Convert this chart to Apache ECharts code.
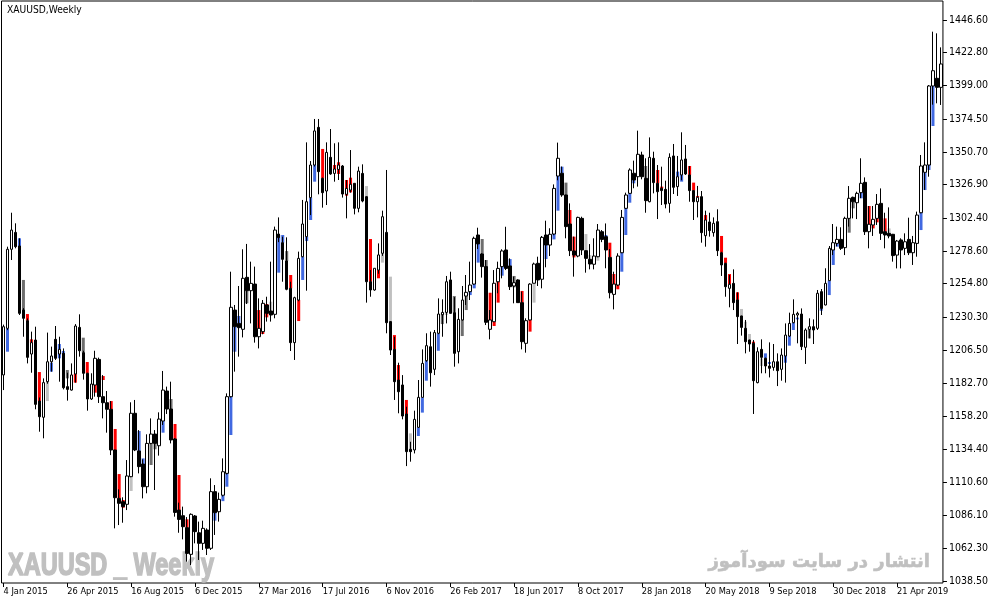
<!DOCTYPE html>
<html><head><meta charset="utf-8">
<script src="https://cdn.jsdelivr.net/npm/echarts/dist/echarts.min.js"></script>
<style>html,body{margin:0;padding:0;background:#fff}#c{width:991px;height:605px}</style>
</head><body><div id="c"></div>
<script>
// Weekly XAUUSD bars, starting week of 4 Jan 2015
const firstWeek = [2015, 0, 4];
const open = [
1188.4,1222.3,1279.8,1292.1,1282.2,1235.6,1227.9,1203.6,1213.8,1169.4,
1157.6,1183.5,1198.0,1214.3,1203.6,1204.1,1179.9,1177.4,1189.1,1223.0,
1204.6,1189.6,1170.9,1181.1,1199.7,1172.6,1168.2,1163.4,1133.8,1098.6,
1096.2,1094.3,1114.4,1160.5,1133.1,1123.6,1107.1,1138.6,1145.4,1136.9,
1154.9,1176.7,1163.6,1141.8,1090.1,1086.0,1077.3,1057.9,1085.8,1073.6,
1065.9,1075.6,1062.3,1103.5,1088.9,1100.9,1116.8,1172.6,1235.6,1225.9,
1221.6,1259.4,1249.7,1254.5,1216.2,1219.9,1239.3,1234.9,1232.5,1290.9,
1284.6,1271.3,1251.4,1211.9,1242.9,1274.4,1289.0,1317.4,1341.1,1368.5,
1331.4,1322.2,1346.7,1335.0,1337.9,1340.4,1319.8,1322.9,1327.8,1309.6,
1335.0,1318.1,1256.2,1250.2,1264.7,1276.9,1292.1,1227.2,1207.0,1184.7,
1181.1,1160.0,1134.3,1133.8,1150.3,1172.1,1198.8,1208.9,1192.5,1218.7,
1232.2,1233.9,1257.5,1233.7,1205.3,1228.4,1245.8,1249.0,1254.5,1290.2,
1276.4,1267.2,1221.6,1227.1,1256.2,1267.2,1279.3,1267.7,1253.1,1257.5,
1241.0,1211.4,1228.4,1255.1,1269.6,1258.0,1290.2,1282.9,1290.9,1333.1,
1335.1,1319.3,1298.2,1278.6,1274.9,1302.3,1278.8,1272.5,1268.9,1274.4,
1292.6,1289.0,1273.9,1247.0,1253.8,1277.3,1309.6,1320.5,1335.1,1332.6,
1348.4,1331.4,1314.4,1346.0,1327.8,1324.2,1323.4,1313.2,1347.7,1325.4,
1333.9,1345.5,1333.9,1322.5,1314.4,1318.1,1289.7,1299.7,1291.9,1299.9,
1277.3,1269.6,1251.4,1255.0,1243.0,1231.3,1222.3,1213.8,1211.4,1182.8,
1207.0,1200.5,1194.9,1193.9,1198.0,1192.5,1202.2,1216.7,1226.4,1232.0,
1232.7,1208.5,1221.6,1223.5,1222.3,1249.0,1239.3,1257.0,1279.3,1284.1,
1287.0,1281.0,1302.3,1317.6,1313.7,1321.0,1328.5,1292.6,1297.5,1302.3,
1313.2,1292.6,1291.4,1290.7,1275.6,1286.6,1280.5,1287.0,1277.3,1284.1,
1306.4,1335.8,1341.1,1398.6,1404.2,1397.6];
const high = [
1225.0,1281.7,1306.4,1298.7,1287.8,1237.0,1229.5,1219.9,1223.5,1172.0,
1185.9,1219.2,1209.0,1224.0,1216.2,1207.7,1190.0,1196.8,1225.4,1232.5,
1206.0,1190.0,1189.6,1206.0,1201.0,1188.3,1176.7,1169.4,1134.0,1105.2,
1099.4,1126.5,1168.5,1170.2,1148.3,1127.0,1145.2,1156.8,1148.3,1161.2,
1191.3,1179.9,1183.5,1142.5,1095.5,1092.6,1085.0,1087.7,1086.5,1081.7,
1082.4,1076.8,1113.2,1108.3,1102.8,1127.7,1175.0,1263.5,1239.3,1253.1,
1279.8,1283.7,1270.8,1267.2,1244.1,1242.9,1245.3,1270.8,1296.3,1303.0,
1289.0,1288.5,1256.2,1245.3,1278.1,1315.7,1357.6,1344.0,1374.6,1374.6,
1332.0,1357.6,1367.3,1356.9,1357.6,1341.1,1330.2,1352.0,1328.0,1339.9,
1341.6,1318.5,1264.7,1266.0,1284.1,1307.9,1337.5,1227.5,1216.2,1197.3,
1188.3,1165.3,1139.8,1162.4,1184.7,1207.0,1218.7,1219.9,1221.1,1244.1,
1243.4,1260.4,1263.5,1245.0,1236.9,1253.1,1261.1,1270.8,1289.0,1295.5,
1277.0,1272.0,1235.6,1264.7,1270.8,1279.8,1296.2,1273.2,1259.9,1258.0,
1249.0,1229.6,1255.1,1270.1,1274.4,1289.5,1300.6,1295.1,1327.0,1357.4,
1340.0,1319.5,1313.2,1289.0,1303.5,1303.5,1279.0,1283.6,1287.8,1298.2,
1293.8,1298.6,1280.0,1263.5,1276.9,1308.4,1321.0,1338.7,1344.3,1366.1,
1350.8,1346.0,1361.2,1350.8,1341.1,1339.9,1329.7,1349.6,1356.4,1347.7,
1364.9,1355.7,1340.4,1322.6,1325.9,1322.2,1307.9,1306.4,1303.0,1308.9,
1278.0,1270.0,1261.1,1265.2,1248.5,1231.5,1228.4,1214.0,1213.8,1208.5,
1214.3,1201.0,1212.1,1210.9,1204.1,1207.7,1225.9,1233.7,1243.4,1234.4,
1236.8,1222.3,1229.6,1228.8,1250.2,1250.9,1266.0,1282.2,1298.2,1296.3,
1295.8,1303.5,1325.8,1318.1,1321.7,1346.0,1332.1,1311.3,1311.3,1320.0,
1324.1,1306.4,1310.3,1291.0,1286.6,1287.8,1291.4,1302.8,1289.5,1307.2,
1348.4,1357.6,1399.3,1438.1,1436.9,1426.7];
const low = [
1177.4,1221.0,1272.0,1280.5,1232.0,1216.2,1196.8,1190.0,1163.4,1147.1,
1142.3,1182.0,1190.8,1199.3,1183.5,1177.9,1169.7,1177.0,1182.8,1201.7,
1185.0,1162.4,1170.2,1172.6,1168.0,1156.8,1146.4,1130.1,1076.8,1079.2,
1080.9,1090.1,1114.0,1133.0,1116.8,1098.6,1102.3,1138.0,1104.7,1129.7,
1152.0,1160.0,1138.6,1085.3,1073.6,1068.8,1052.6,1050.1,1065.9,1053.8,
1061.1,1057.4,1061.1,1072.0,1081.7,1100.0,1116.0,1172.0,1190.8,1201.7,
1215.7,1240.0,1225.9,1211.9,1207.7,1218.0,1227.2,1227.2,1229.6,1285.0,
1256.2,1250.0,1205.8,1199.3,1242.0,1274.0,1249.7,1304.7,1340.0,1319.8,
1310.1,1312.0,1334.0,1329.0,1330.2,1317.4,1302.3,1321.0,1305.2,1306.7,
1314.0,1241.0,1245.3,1249.7,1262.0,1275.0,1218.7,1202.9,1170.2,1160.5,
1156.1,1122.1,1125.3,1131.3,1150.0,1172.0,1198.0,1179.9,1188.3,1218.0,
1216.2,1225.9,1233.0,1194.4,1196.8,1228.0,1239.3,1242.9,1254.0,1280.0,
1259.2,1224.7,1214.3,1227.0,1247.8,1258.7,1264.7,1250.2,1240.5,1241.0,
1207.0,1204.6,1228.0,1255.0,1253.1,1251.4,1266.7,1274.9,1290.0,1330.0,
1318.0,1287.8,1274.9,1259.9,1274.0,1275.6,1262.8,1265.2,1265.2,1274.0,
1285.0,1266.0,1244.1,1236.1,1253.0,1277.0,1309.0,1320.0,1324.2,1325.4,
1330.7,1306.4,1314.0,1320.5,1301.8,1312.0,1309.6,1306.4,1320.0,1318.6,
1330.0,1333.9,1314.4,1301.1,1303.0,1284.6,1281.7,1289.0,1289.0,1274.9,
1260.4,1245.3,1237.6,1235.6,1210.9,1217.0,1204.1,1205.3,1160.0,1182.3,
1189.6,1189.6,1186.6,1191.5,1180.3,1184.2,1182.8,1216.0,1226.0,1211.4,
1206.5,1196.4,1215.0,1210.9,1221.1,1232.0,1239.0,1257.0,1275.6,1282.0,
1279.3,1275.6,1296.3,1302.3,1301.8,1317.0,1290.2,1280.5,1289.5,1297.5,
1286.6,1280.5,1287.8,1270.8,1265.9,1265.9,1275.6,1275.6,1268.4,1274.4,
1306.0,1323.0,1332.6,1385.0,1386.0,1384.8];
const close = [
1223.5,1279.8,1293.8,1281.7,1233.2,1229.6,1201.2,1211.9,1167.0,1158.0,
1182.8,1198.0,1202.2,1200.5,1207.0,1179.1,1177.9,1188.4,1224.0,1206.0,
1189.6,1170.9,1181.8,1200.5,1172.6,1168.2,1163.4,1133.8,1099.1,1095.0,
1092.6,1114.9,1160.5,1133.8,1121.7,1107.1,1138.6,1145.4,1138.6,1156.3,
1177.4,1163.6,1141.1,1088.4,1083.3,1078.0,1058.6,1087.0,1074.4,1065.9,
1076.8,1062.3,1103.5,1088.2,1097.9,1118.0,1172.6,1237.6,1223.5,1222.8,
1258.7,1249.7,1255.0,1216.2,1222.3,1240.5,1233.2,1232.0,1293.8,1288.3,
1272.5,1250.7,1211.9,1244.6,1273.2,1298.2,1314.4,1341.1,1365.9,1336.3,
1321.0,1350.3,1334.6,1338.2,1341.1,1320.0,1324.1,1327.1,1309.6,1336.7,
1314.9,1256.2,1250.2,1266.0,1275.7,1303.5,1226.4,1206.5,1183.5,1176.2,
1158.5,1132.6,1132.6,1156.1,1172.1,1196.8,1209.7,1190.0,1219.2,1232.7,
1233.9,1256.2,1233.2,1204.1,1228.8,1242.9,1248.5,1253.8,1287.8,1283.7,
1267.2,1226.7,1228.4,1255.1,1265.9,1278.6,1265.9,1252.6,1255.5,1241.0,
1212.6,1227.9,1254.5,1269.1,1257.5,1288.5,1282.9,1290.7,1324.1,1346.0,
1319.3,1296.3,1278.8,1275.6,1303.0,1279.3,1273.2,1269.1,1274.9,1293.8,
1287.0,1279.3,1248.2,1254.5,1274.9,1303.0,1319.3,1337.5,1330.2,1348.9,
1332.6,1315.2,1346.7,1328.3,1321.7,1322.5,1312.7,1346.7,1324.9,1332.6,
1344.8,1334.6,1322.5,1314.4,1317.6,1291.9,1301.1,1293.4,1298.7,1278.8,
1268.4,1252.6,1254.3,1241.0,1230.8,1223.0,1212.6,1210.9,1184.2,1205.3,
1201.2,1194.9,1193.2,1198.0,1191.5,1202.9,1217.4,1225.9,1232.5,1233.2,
1209.0,1221.1,1223.5,1221.1,1247.8,1236.8,1255.0,1280.5,1284.6,1287.0,
1280.5,1302.3,1316.9,1314.4,1320.5,1327.8,1292.6,1298.0,1301.6,1312.5,
1291.4,1290.2,1289.5,1275.2,1285.8,1279.3,1285.3,1277.3,1284.6,1304.7,
1340.4,1341.1,1398.6,1409.7,1397.6,1414.6];

// Coloured indicator blocks drawn behind the candles
const blockBar = [1,4,5,6,7,9,11,12,14,15,16,18,20,21,23,25,27,28,29,30,32,34,35,37,38,40,42,43,44,46,
53,55,56,57,58,59,61,64,65,66,67,69,70,71,72,74,75,76,77,78,80,83,84,86,87,91,92,94,95,97,
98,99,101,102,104,105,106,109,110,111,113,115,116,117,118,119,120,121,122,123,124,125,127,128,130,132,133,136,138,139,
140,141,142,143,146,147,149,151,152,153,154,155,156,157,158,161,164,165,169,170,172,173,174,176,180,181,182,184,185,186,
187,188,190,191,192,196,197,198,199,202,205,207,208,209,212,213,215,217,218,219,221,222,230,231,232,233,234];
const blockLow = [1205.3,1281.7,1235.6,1227.9,1211.9,1169.4,1169.4,1190.8,1200.5,1203.6,1185.9,1182.8,1204.6,1189.6,1175.5,1184.7,1163.4,1133.8,1098.6,1091.8,1104.0,1133.1,1123.6,1122.9,1134.3,1146.4,1163.6,1141.8,1090.1,1077.3,
1082.4,1096.6,1107.1,1144.7,1205.3,1225.9,1240.5,1222.3,1218.2,1230.3,1234.9,1262.8,1284.6,1271.3,1251.4,1227.6,1257.5,1285.8,1301.1,1329.0,1331.4,1338.2,1334.6,1318.8,1321.2,1318.1,1256.2,1258.7,1270.1,1227.2,
1207.0,1184.7,1160.0,1132.6,1144.0,1161.0,1184.2,1206.0,1225.4,1232.0,1233.7,1216.7,1235.6,1246.5,1251.4,1270.1,1276.4,1267.2,1228.4,1224.0,1241.0,1260.6,1267.7,1252.1,1241.0,1219.9,1241.0,1272.7,1287.0,1307.9,
1335.1,1319.3,1298.2,1273.9,1278.8,1272.5,1271.5,1289.0,1273.9,1254.5,1250.7,1263.5,1290.2,1313.7,1327.8,1331.4,1327.8,1324.2,1332.6,1329.0,1333.9,1322.5,1317.6,1301.1,1277.3,1269.6,1254.3,1243.0,1231.3,1222.3,
1213.8,1211.4,1194.9,1200.5,1196.4,1197.3,1209.7,1221.1,1228.8,1215.0,1235.1,1246.5,1268.4,1281.7,1291.9,1309.6,1316.9,1298.0,1295.0,1299.4,1292.6,1291.4,1293.8,1322.9,1337.5,1369.5,1402.9];
const blockHigh = [1222.3,1287.8,1257.5,1232.7,1214.3,1190.5,1183.5,1197.3,1210.9,1205.8,1192.0,1189.1,1215.5,1197.8,1181.1,1187.6,1169.4,1149.1,1116.3,1097.4,1114.4,1147.6,1127.7,1138.6,1138.6,1154.9,1170.9,1152.7,1115.6,1083.4,
1088.2,1100.9,1116.8,1172.6,1223.5,1231.3,1249.7,1235.6,1219.9,1240.0,1241.7,1290.2,1290.2,1278.5,1261.1,1242.9,1274.4,1289.0,1317.4,1341.1,1352.8,1341.1,1343.1,1330.2,1331.9,1325.8,1287.3,1264.7,1276.9,1259.9,
1217.4,1195.6,1170.2,1145.9,1150.3,1172.1,1198.8,1218.7,1233.2,1234.9,1245.8,1228.4,1245.8,1249.0,1254.5,1283.7,1287.3,1272.0,1248.2,1227.1,1256.2,1267.2,1272.7,1260.4,1249.5,1228.4,1255.1,1282.9,1291.4,1333.1,
1339.9,1328.3,1308.4,1289.0,1290.9,1275.6,1274.4,1290.2,1284.6,1261.8,1253.8,1277.3,1309.6,1320.5,1330.2,1340.4,1337.5,1325.4,1336.3,1333.9,1340.4,1328.3,1318.6,1304.7,1289.5,1273.7,1261.8,1248.5,1236.4,1227.1,
1218.2,1212.6,1200.5,1204.1,1197.8,1202.2,1216.7,1226.4,1230.1,1223.0,1236.8,1257.0,1279.3,1284.1,1302.3,1314.4,1321.0,1311.3,1297.5,1302.3,1302.3,1295.0,1306.4,1335.8,1341.1,1398.6,1404.2];
const blockColor = ['b','b','d','r','r','r','l','b','b','b','d','r','d','r','r','r','r','r','r','r','l','b','b','d','d','b','d','r','r','r',
'b','b','b','b','b','b','d','r','r','r','l','b','b','d','r','r','b','b','b','b','r','r','r','r','r','l','r','r','l','l',
'r','r','r','l','b','b','b','b','d','l','d','d','d','b','b','b','d','d','r','r','r','b','b','d','r','r','l','b','b','b',
'b','d','r','r','l','l','l','b','r','r','r','b','b','b','b','d','r','r','b','b','r','r','r','r','r','r','r','r','l','l',
'l','r','l','b','b','b','b','b','b','d','b','b','b','b','d','d','b','r','r','r','r','l','b','b','b','b','b'];

const yTickLabels = ['1038.50','1062.30','1086.10','1110.60','1134.40','1158.20','1182.70','1206.50','1230.30',
'1254.80','1278.60','1302.40','1326.90','1350.70','1374.50','1399.00','1422.80','1446.60'];
const monthNames = ['Jan','Feb','Mar','Apr','May','Jun','Jul','Aug','Sep','Oct','Nov','Dec'];

const categories = [];
const t0 = Date.UTC(firstWeek[0], firstWeek[1], firstWeek[2]);
for (let i = 0; i < open.length; i++) {
  const d = new Date(t0 + i * 7 * 86400000);
  categories.push(d.getUTCDate() + ' ' + monthNames[d.getUTCMonth()] + ' ' + d.getUTCFullYear());
}
const colorMap = { b: '#4169E1', r: '#FF0000', l: '#C0C0C0', d: '#6E6E6E' };
const candleData = open.map((o, i) => [o, close[i], low[i], high[i]]);
const blockData = blockBar.map((b, k) => [b, blockLow[k], blockHigh[k]]);
const yTickValues = yTickLabels.map(Number);
const FONT = '"DejaVu Sans Condensed", "DejaVu Sans", sans-serif';

const chart = echarts.init(document.getElementById('c'), null, { renderer: 'canvas' });
chart.setOption({
  animation: false,
  backgroundColor: '#ffffff',
  title: {
    text: 'XAUUSD,Weekly', left: 7, top: 5, padding: 0,
    textStyle: { fontSize: 10.2, fontWeight: 'normal', color: '#000', fontFamily: FONT }
  },
  graphic: [
    { type: 'text', x: 8, y: 550, scaleX: 0.735, scaleY: 1, z: 0, silent: true,
      style: { x: 0, y: 0, text: 'XAUUSD _ Weekly', fill: '#C0C0C0', stroke: '#C0C0C0', lineWidth: 1.6,
        align: 'left', verticalAlign: 'top',
        font: 'bold 32px "Liberation Sans", sans-serif' } },
    { type: 'text', x: 930, y: 553, z: 0, silent: true,
      style: { x: 0, y: 0, text: 'انتشار در سایت سودآموز', fill: '#C0C0C0', stroke: '#C0C0C0', lineWidth: 0.6,
        align: 'right', verticalAlign: 'top',
        font: 'bold 18px "DejaVu Sans", sans-serif' } }
  ],
  grid: { left: 1.5, right: 45.5, top: 1, bottom: 22, show: true, borderColor: '#000', borderWidth: 1, backgroundColor: 'transparent' },
  xAxis: {
    type: 'category', data: categories, boundaryGap: true,
    axisLine: { show: false },
    axisTick: { show: true, alignWithLabel: true, length: 4, interval: (i) => i % 16 === 0, lineStyle: { color: '#000' } },
    axisLabel: { interval: (i) => i % 16 === 0, align: 'left', margin: 4, color: '#000', fontSize: 9.2, fontFamily: FONT },
    splitLine: { show: false }
  },
  yAxis: {
    type: 'value', position: 'right', min: 1037.05, max: 1460.42, scale: true,
    axisLine: { show: false },
    splitLine: { show: false },
    axisTick: { show: true, customValues: yTickValues, length: 4, lineStyle: { color: '#000' } },
    axisLabel: { customValues: yTickValues, formatter: (v) => v.toFixed(2), margin: 6, color: '#000', fontSize: 10.5, fontFamily: FONT }
  },
  series: [
    {
      type: 'custom', z: 2, silent: true,
      data: blockData,
      encode: { x: 0, y: [1, 2] },
      renderItem: (params, api) => {
        const i = api.value(0);
        const top = api.coord([i, api.value(2)]);
        const bot = api.coord([i, api.value(1)]);
        return { type: 'rect',
          shape: { x: top[0] - 1.5, y: top[1], width: 3, height: Math.max(1, bot[1] - top[1]) },
          style: { fill: colorMap[blockColor[params.dataIndex]] } };
      }
    },
    {
      type: 'candlestick', z: 3, silent: true,
      data: candleData, barWidth: 3,
      itemStyle: { color: '#FFFFFF', color0: '#000000', borderColor: '#000000', borderColor0: '#000000', borderWidth: 1 }
    }
  ]
});
</script>
</body></html>
